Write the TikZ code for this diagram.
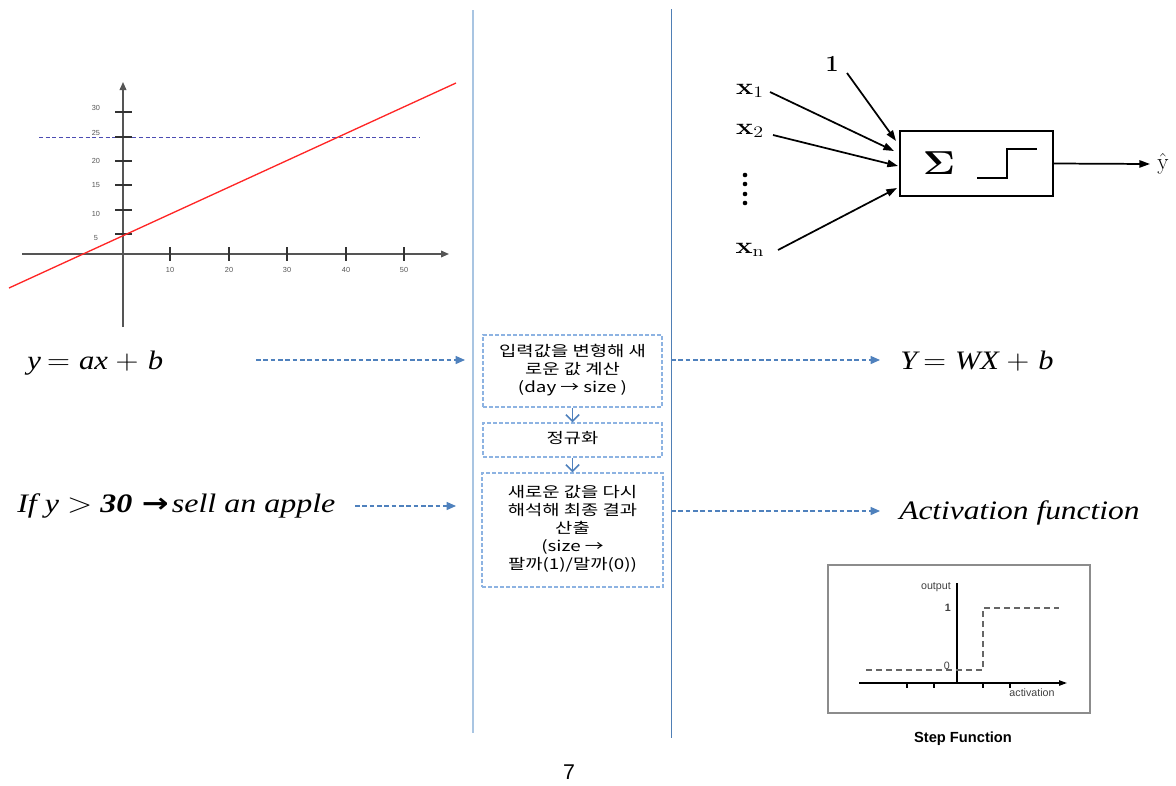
\documentclass[tikz,border=0pt]{standalone}
\usepackage[no-math]{fontspec}
\setmainfont{Liberation Serif}
\newfontfamily\kr{Noto Sans CJK KR}
\newfontfamily\arial{Liberation Sans}
\newfontfamily\dv{DejaVu Sans}
\usetikzlibrary{arrows.meta,calc}
\definecolor{lineblue}{HTML}{A9C5E2}
\definecolor{dblue}{HTML}{4F7FB5}
\definecolor{arrblue}{HTML}{4F81BD}
\definecolor{boxblue}{HTML}{8DB3E2}
\definecolor{axgray}{HTML}{555555}
\newcommand{\krlines}[1]{\scalebox{1.28}[1]{\begin{tabular}{@{}c@{}}#1\end{tabular}}}
\tikzset{
  dasharrow/.style={draw=arrblue, line width=1pt, dash pattern=on 3.5pt off 2pt, -{Triangle[length=7pt,width=6pt]}},
  midbox/.style={draw=boxblue, line width=0.8pt, dash pattern=on 3pt off 1.5pt, align=center, font=\kr\fontsize{11}{13.5}\selectfont, inner sep=0pt},
  downarrow/.style={draw=arrblue, line width=1.2pt, -{Straight Barb[length=5pt,width=10pt]}},
  blkarrow/.style={draw=black, line width=1.3pt, -{Triangle[length=8pt,width=5.5pt]}},
  ticklab/.style={font=\arial\fontsize{5.5}{6}\selectfont, text=axgray, inner sep=0pt},
  eqtext/.style={font=\fontsize{20}{24}\selectfont, inner sep=0pt},
  plab/.style={font=\fontsize{18}{20}\selectfont, inner sep=0pt},
  steplab/.style={font=\arial\fontsize{8}{9}\selectfont, text=black!75, inner sep=0pt},
}
\begin{document}
\begin{tikzpicture}[x=0.75pt,y=-0.75pt]
\useasboundingbox (0,0) rectangle (1176,785);

% separators
\draw[lineblue, line width=1.6pt] (473,10) -- (473,733);
\draw[dblue, line width=0.75pt] (671,9) -- (671,738);

% ---- graph
\draw[blue!40!gray, line width=0.6pt, dash pattern=on 3pt off 2pt] (39,137) -- (420,137);
\draw[axgray, line width=1.1pt, -{Triangle[length=6pt,width=5pt]}] (22,254) -- (449,254);
\draw[axgray, line width=1.1pt, -{Triangle[length=6pt,width=5pt]}] (123,327) -- (123,82);
\foreach \x/\l in {170/10,229/20,287/30,346/40,404/50}{
  \draw[black!80, line width=1pt] (\x,247) -- (\x,261);
  \node[ticklab] (xl\l) at (\x,270) {\l};
}
\foreach \y in {112,137,161,185,210,234}{
  \draw[black!80, line width=1pt] (115,\y) -- (132,\y);
}
\foreach \y/\l in {108/30,133/25,161/20,185/15,214/10,238/5}{
  \node[ticklab] (yl\l) at (96,\y) {\l};
}
\draw[red!85!white, line width=1pt] (9,288) -- (456,83);

% ---- perceptron
\node[draw=black, line width=1.4pt, minimum width=153*0.75pt, minimum height=65*0.75pt, inner sep=0pt] (pbox) at (976.5,163.5) {};
\node[inner sep=0pt, font=\fontsize{29}{30}\selectfont] (sig) at (939,163.5) {\scalebox{1.2}[1]{$\mathbf{\Sigma}$}};
\draw[line width=1.4pt] (977,178) -- (1007,178) -- (1007,149) -- (1037,149);
\node[inner sep=0pt, font=\fontsize{17}{20}\selectfont] (one) at (832,64) {$\mathbf{1}$};
\node[plab] (x1) at (750,91) {\scalebox{1.25}[1]{$\mathbf{x}_1$}};
\node[plab] (x2) at (750,131) {\scalebox{1.25}[1]{$\mathbf{x}_2$}};
\node[plab] (xn) at (750,250) {\scalebox{1.25}[1]{$\mathbf{x}_\mathrm{n}$}};
\node[plab] (yhat) at (1163,164) {$\hat{\mathrm{y}}$};
\foreach \yy in {175,184,194,203}{ \fill (745,\yy) circle (2.3); }
\coordinate (s1) at (847,73);  \coordinate (e1) at (896,141);
\coordinate (sx1) at (770,92); \coordinate (ex1) at (894,151);
\coordinate (sx2) at (773,135); \coordinate (ex2) at (898,166);
\coordinate (sxn) at (778,250); \coordinate (exn) at (897,188);
\coordinate (ot) at (1150,164);
\draw[blkarrow] (s1) -- (e1);
\draw[blkarrow] (sx1) -- (ex1);
\draw[blkarrow] (sx2) -- (ex2);
\draw[blkarrow] (sxn) -- (exn);
\draw[blkarrow] (pbox.east) -- (ot);

% ---- middle boxes
\node[midbox, minimum width=179*0.75pt, minimum height=72*0.75pt] (b1) at (572.5,371) {\krlines{입력값을 변형해 새\\로운 값 계산\\(day → size )}};
\node[midbox, minimum width=179*0.75pt, minimum height=34*0.75pt] (b2) at (572.5,440) {\krlines{정규화}};
\node[midbox, minimum width=181*0.75pt, minimum height=114*0.75pt] (b3) at (572.5,530) {\krlines{새로운 값을 다시\\해석해 최종 결과\\산출\\(size →\\팔까(1)/말까(0))}};
\draw[downarrow] (b1.south) -- (b2.north);
\draw[downarrow] (b2.south) -- (b3.north);

% ---- left texts
\node[eqtext, anchor=base west] (eq1) at (27,369) {\scalebox{1.15}[1]{{\itshape y}\hspace{4pt}$=$\hspace{6pt}{\itshape ax}\hspace{5pt}$+$\hspace{6pt}{\itshape b}}};
\node[eqtext, anchor=base west] (rule) at (17,512) {\scalebox{1.2}[1]{{\itshape If y} $>$ {\itshape\bfseries 30}\hspace{6pt}{\dv\bfseries\fontsize{20}{24}\selectfont →}\hspace{2pt}{\itshape sell an apple}}};
\coordinate (l1s) at (256,360); \coordinate (l1e) at (465,360);
\coordinate (l2s) at (355,506); \coordinate (l2e) at (456,506);
\draw[dasharrow] (l1s) -- (l1e);
\draw[dasharrow] (l2s) -- (l2e);

% ---- right texts
\coordinate (r1s) at (671,360); \coordinate (r1e) at (880,360);
\coordinate (r2s) at (671,511); \coordinate (r2e) at (880,511);
\draw[dasharrow] (r1s) -- (r1e);
\draw[dasharrow] (r2s) -- (r2e);
\node[eqtext, anchor=base west] (eq2) at (900,369) {\scalebox{1.14}[1]{{\itshape Y}\hspace{4pt}$=$\hspace{6pt}{\itshape WX}\hspace{5pt}$+$\hspace{6pt}{\itshape b}}};
\node[eqtext, anchor=base west] (act) at (899,519) {\scalebox{1.18}[1]{\itshape Activation function}};

% ---- step function panel
\node[draw=black!45, line width=1.3pt, minimum width=262*0.75pt, minimum height=148*0.75pt, inner sep=0pt] (panel) at (959,639) {};
\draw[black, line width=1.1pt, -{Triangle[length=6pt,width=4pt]}] (859,683) -- (1067,683);
\draw[black, line width=1.1pt] (957,682) -- (957,583);
\foreach \x in {907,934,983,1010}{ \draw[black, line width=0.9pt] (\x,683) -- (\x,688); }
\draw[black!60, line width=0.9pt, dash pattern=on 4.5pt off 3pt] (866,670) -- (983,670) -- (983,608) -- (1059,608);
\node[steplab, anchor=east] (outl) at (951,587) {output};
\node[steplab, anchor=east] (onel) at (951,608) {\bfseries 1};
\node[steplab, anchor=east] (zerol) at (950,666) {0};
\node[steplab] (actl) at (1032,693) {activation};
\node[font=\arial\bfseries\fontsize{11}{13}\selectfont, inner sep=0pt] (stepf) at (963,739) {Step Function};

% page number
\node[font=\arial\fontsize{16}{18}\selectfont, inner sep=0pt] (pg) at (569,772) {7};
\end{tikzpicture}
\end{document}
